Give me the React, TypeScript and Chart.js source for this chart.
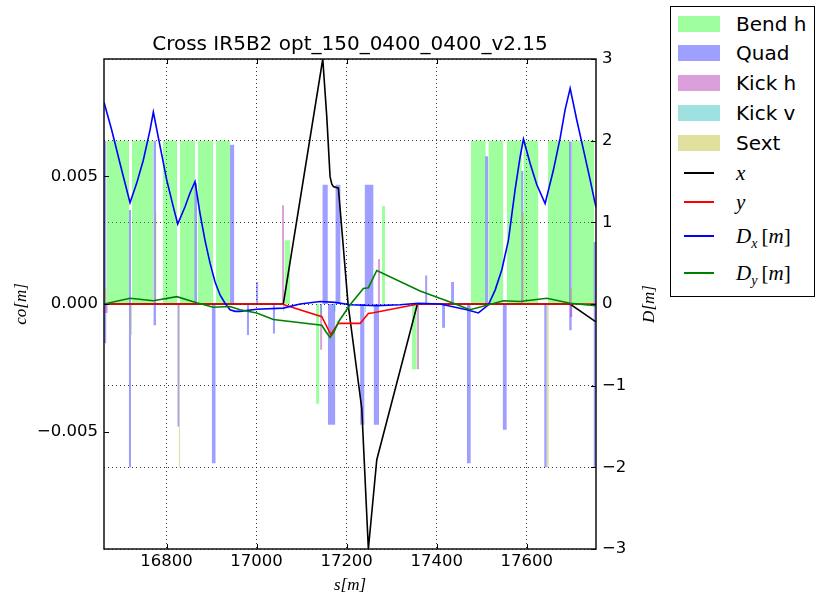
import React, { useEffect, useRef } from "react";
import { Chart, registerables } from "chart.js";

Chart.register(...registerables);

// ---- axis limits and tick values ----
const S_MIN = 16661;
const S_MAX = 17754;
const CO_LIMIT = 0.0096;
const D_LIMIT = 3;

const sTicks = [16800, 17000, 17200, 17400, 17600];
const coTicks = [-0.005, 0, 0.005];
const dTicks = [-3, -2, -1, 0, 1, 2, 3];

// ---- closed orbit (left axis, metres) ----
const orbitXS = [16661, 17059.4, 17147.0, 17155.9, 17163.2, 17167.0, 17170.6, 17181.7, 17203.2, 17233.7, 17248.3, 17267.0, 17357.2, 17696.5, 17754];
const orbitX = [0, 0, 0.0096, 0.00734, 0.00499, 0.0047, 0.0046, 0.00454, 0, -0.0041, -0.0096, -0.0061, 0, 0, -0.0007];

const orbitYS = [16661, 17055.9, 17144.8, 17164.8, 17181.7, 17229.9, 17248.3, 17259.4, 17359.4, 17754];
const orbitY = [0, 0, -0.0005, -0.00119, -0.00076, -0.00076, -0.00037, -0.00034, 0, 0];

// ---- dispersion (right axis, metres) ----
const dispXS = [
  16661, 16678.1, 16696.6, 16718.8, 16733.7, 16748.3, 16763.2, 16770.6, 16800.3, 16815.0,
  16824.8, 16841.0, 16852.1, 16863.2, 16874.3, 16885.4, 16896.6, 16907.7, 16918.8, 16929.9,
  16941.0, 16952.1, 16963.2, 17000.3, 17059.4, 17096.6, 17141.0, 17174.3, 17207.7, 17267.0,
  17318.8, 17359.5, 17407.7, 17466.9, 17492.7, 17515.0, 17529.9, 17544.8, 17559.4, 17574.3,
  17585.4, 17592.8, 17607.7, 17622.5, 17641.0, 17659.4, 17674.3, 17685.4, 17696.6, 17711.4,
  17726.1, 17741.0, 17754,
];
const dispX = [
  2.47, 2.13, 1.72, 1.24, 1.48, 1.76, 2.13, 2.35, 1.52, 1.19,
  0.98, 1.19, 1.36, 1.5, 1.11, 0.78, 0.5, 0.27, 0.11, 0.01,
  -0.07, -0.09, -0.09, -0.065, -0.05, 0.0, 0.03, 0.02, -0.01, -0.02,
  -0.01, 0.01, 0.0, -0.07, -0.11, -0.01, 0.17, 0.42, 0.78, 1.4,
  1.8, 2.02, 1.72, 1.46, 1.23, 1.64, 2.03, 2.38, 2.64, 2.25,
  1.89, 1.52, 1.18,
];

const dispYS = [
  16661, 16718.8, 16770.6, 16822.6, 16867.0, 16903.9, 16941.0, 16963.2, 17000.3, 17037.2,
  17144.8, 17154.0, 17163.2, 17172.0, 17181.7, 17207.7, 17237.2, 17248.4, 17267.0, 17363.2,
  17437.2, 17474.3, 17548.3, 17585.4, 17644.8, 17696.6, 17754,
];
const dispY = [
  0, 0.07, 0.04, 0.09, 0.016, -0.04, -0.03, -0.07, -0.11, -0.19,
  -0.26, -0.34, -0.41, -0.34, -0.22, -0.01, 0.19, 0.2, 0.41, 0.16,
  0.01, -0.07, 0.04, 0.03, 0.07, 0.01, -0.02,
];

// ---- lattice elements: start s, end s, strength (drawn on the right axis) ----
const bendStart = [16667.0, 16722.6, 16791.4, 16829.9, 16869.2, 16909.9, 17061.7, 17132.1, 17278.1, 17344.8, 17475.9, 17515.0, 17555.9, 17592.8, 17646.9, 17700.3];
const bendEnd = [16717.2, 16770.6, 16823.9, 16863.2, 16903.9, 16941.0, 17074.3, 17139.5, 17285.4, 17355.9, 17509.2, 17548.3, 17589.2, 17626.1, 17696.6, 17749.9];
const bendH = [2, 2, 2, 2, 2, 2, 0.78, -1.22, 1.2, -0.8, 2, 2, 2, 2, 2, 2];

const quadStart = [
  16661, 16661, 16716.1, 16716.1, 16770.6, 16770.6, 16823.9, 16861.7, 16900.3, 16941.0,
  16978.1, 16998.8, 17035.9, 17146.1, 17158.3, 17175.0, 17229.9, 17239.9, 17259.9, 17374.3,
  17412.1, 17432.1, 17466.9, 17507.7, 17546.6, 17587.7, 17638.8, 17694.3, 17694.3, 17748.4,
  17748.4,
];
const quadEnd = [
  16666.5, 16666.5, 16721.2, 16721.2, 16776.6, 16776.6, 16828.3, 16867.7, 16909.2, 16950.6,
  16983.2, 17003.9, 17041.0, 17158.3, 17175.0, 17186.6, 17239.9, 17259.9, 17272.1, 17379.5,
  17418.8, 17438.8, 17475.9, 17515.0, 17555.9, 17592.8, 17644.8, 17700.3, 17700.3, 17754.3,
  17754.3,
];
const quadK = [
  2.0, -0.48, 1.15, -2.0, 2.0, -0.26, -1.5, 1.48, -1.95, 1.95,
  -0.38, 0.27, -0.36, 1.46, -1.48, 1.46, -1.48, 1.46, -1.48, 0.35,
  -0.29, 0.27, -1.95, 1.81, -1.54, 1.63, -2.0, 1.99, -0.32, 0.76,
  -2.0,
];

const kickHStart = [16663.0, 17056.6, 17141.0, 17269.2, 17355.9, 17696.6];
const kickHEnd = [16669.5, 17061.0, 17146.1, 17274.3, 17361.0, 17701.7];
const kickHK = [-0.11, 1.21, -0.56, 0.55, -0.8, -0.16];

const kickVStart = [17058.1, 17141.0, 17171.0, 17239.9];
const kickVEnd = [17061.7, 17145.5, 17175.9, 17243.0];
const kickVK = [-0.09, -0.16, -0.09, -0.1];

const sextStart = [16663.2, 16720.3, 16774.3, 16827.0, 17589.2, 17644.8, 17696.6];
const sextEnd = [16667.0, 16723.2, 16777.6, 16830.0, 17594.3, 17649.2, 17701.0];
const sextK = [0.19, -0.38, 1.13, -2.0, 1.13, -2.0, 0.2];

// ---- styles ----
const BEND_FILL = "rgba(0, 255, 0, 0.375)";
const QUAD_FILL = "rgba(0, 0, 255, 0.375)";
const KICKH_FILL = "rgba(160, 0, 160, 0.375)";
const KICKV_FILL = "rgba(0, 172, 172, 0.375)";
const SEXT_FILL = "rgba(172, 172, 0, 0.375)";

const SANS = "'DejaVu Sans', sans-serif";
const MATH = "'Liberation Serif', 'DejaVu Serif', serif";

type Pt = { x: number; y: number };
const zip = (xs: number[], ys: number[]): Pt[] => xs.map((x, i) => ({ x, y: ys[i] }));

const minus = (s: string) => s.replace("-", "\u2212");

function elementBlocks(label: string, start: number[], end: number[], strength: number[], color: string, order: number) {
  return start.map((s0, i) => ({
    type: "line" as const,
    label,
    data: [
      { x: s0, y: 0 },
      { x: s0, y: strength[i] },
      { x: end[i], y: strength[i] },
      { x: end[i], y: 0 },
    ],
    xAxisID: "x",
    yAxisID: "y2",
    fill: "origin",
    backgroundColor: color,
    borderColor: "rgba(0,0,0,0)",
    borderWidth: 0,
    pointRadius: 0,
    pointHoverRadius: 0,
    tension: 0,
    order,
  }));
}

function curve(label: string, xs: number[], ys: number[], color: string, axis: string, order: number) {
  return {
    type: "line" as const,
    label,
    data: zip(xs, ys),
    xAxisID: "x",
    yAxisID: axis,
    borderColor: color,
    borderWidth: 1.6,
    pointRadius: 0,
    pointHoverRadius: 0,
    fill: false,
    tension: 0,
    order,
  };
}

// frame, inward tick marks and the right-hand axis title
const framePlugin = {
  id: "frame",
  afterDatasetsDraw(chart: any) {
    const { ctx, chartArea: a, scales } = chart;
    const len = 5;
    ctx.save();
    ctx.strokeStyle = "#000";
    ctx.lineWidth = 1;
    ctx.beginPath();
    for (const v of sTicks) {
      const px = Math.round(scales.x.getPixelForValue(v)) + 0.5;
      ctx.moveTo(px, a.bottom);
      ctx.lineTo(px, a.bottom - len);
      ctx.moveTo(px, a.top);
      ctx.lineTo(px, a.top + len);
    }
    for (const v of coTicks) {
      const py = Math.round(scales.y.getPixelForValue(v)) + 0.5;
      ctx.moveTo(a.left, py);
      ctx.lineTo(a.left + len, py);
    }
    for (const v of dTicks) {
      const py = Math.round(scales.y2.getPixelForValue(v)) + 0.5;
      ctx.moveTo(a.right, py);
      ctx.lineTo(a.right - len, py);
    }
    ctx.stroke();
    ctx.lineWidth = 1.5;
    ctx.strokeStyle = "#111";
    ctx.strokeRect(a.left, a.top, a.right - a.left, a.bottom - a.top);

    ctx.translate(scales.y2.right - 10, (a.top + a.bottom) / 2);
    ctx.rotate(-Math.PI / 2);
    ctx.fillStyle = "#000";
    ctx.font = `italic 17px ${MATH}`;
    ctx.textAlign = "center";
    ctx.textBaseline = "middle";
    ctx.fillText("D[m]", 0, 0);
    ctx.restore();
  },
};

const tickFont = { family: SANS, size: 16.5 };
const gridDash = [1, 3];

function buildConfig(): any {
  const datasets: any[] = [
    ...elementBlocks("Bend h", bendStart, bendEnd, bendH, BEND_FILL, 14),
    ...elementBlocks("Quad", quadStart, quadEnd, quadK, QUAD_FILL, 13),
    ...elementBlocks("Kick h", kickHStart, kickHEnd, kickHK, KICKH_FILL, 12),
    ...elementBlocks("Kick v", kickVStart, kickVEnd, kickVK, KICKV_FILL, 11),
    ...elementBlocks("Sext", sextStart, sextEnd, sextK, SEXT_FILL, 10),
    curve("x", orbitXS, orbitX, "#000000", "y", 3),
    curve("y", orbitYS, orbitY, "#ff0000", "y", 2),
    curve("Dx [m]", dispXS, dispX, "#0000ff", "y2", 1),
    curve("Dy [m]", dispYS, dispY, "#008000", "y2", 0),
  ];
  return {
    type: "line",
    data: { datasets },
    plugins: [framePlugin],
    options: {
      responsive: false,
      devicePixelRatio: 1,
      animation: false,
      events: [],
      layout: { padding: { left: 0, right: 156, top: 0, bottom: 0 } },
      plugins: {
        legend: { display: false },
        tooltip: { enabled: false },
        title: {
          display: true,
          text: "Cross IR5B2 opt_150_0400_0400_v2.15",
          color: "#000",
          fullSize: false,
          font: { family: SANS, size: 20, weight: "normal" },
          padding: { top: 33, bottom: 2 },
        },
      },
      scales: {
        x: {
          type: "linear",
          position: "bottom",
          min: S_MIN,
          max: S_MAX,
          afterBuildTicks: (s: any) => {
            s.ticks = sTicks.map((value) => ({ value }));
          },
          afterFit: (s: any) => {
            s.height = 47;
          },
          ticks: {
            autoSkip: false,
            maxRotation: 0,
            padding: 3,
            color: "#000",
            font: tickFont,
            callback: (v: number) => String(v),
          },
          grid: { display: true, drawTicks: false, color: "rgba(0,0,0,0.8)", lineWidth: 1 },
          border: { display: false, dash: gridDash },
          title: {
            display: true,
            text: "s[m]",
            color: "#000",
            font: { family: MATH, size: 17, style: "italic" },
            padding: { top: 0, bottom: 0 },
          },
        },
        y: {
          type: "linear",
          position: "left",
          min: -CO_LIMIT,
          max: CO_LIMIT,
          afterBuildTicks: (s: any) => {
            s.ticks = coTicks.map((value) => ({ value }));
          },
          afterFit: (s: any) => {
            s.width = 104;
          },
          ticks: {
            autoSkip: false,
            padding: 6,
            color: "#000",
            font: tickFont,
            callback: (v: number) => minus(v.toFixed(3)),
          },
          grid: { display: false, drawTicks: false },
          border: { display: false },
          title: {
            display: true,
            text: "co[m]",
            color: "#000",
            font: { family: MATH, size: 17, style: "italic" },
            padding: { top: 11, bottom: 0 },
          },
        },
        y2: {
          type: "linear",
          position: "right",
          min: -D_LIMIT,
          max: D_LIMIT,
          afterBuildTicks: (s: any) => {
            s.ticks = dTicks.map((value) => ({ value }));
          },
          afterFit: (s: any) => {
            s.width = 64;
          },
          ticks: {
            autoSkip: false,
            padding: 6,
            color: "#000",
            font: tickFont,
            callback: (v: number) => minus(String(v)),
          },
          grid: { display: true, drawTicks: false, color: "rgba(0,0,0,0.8)", lineWidth: 1 },
          border: { display: false, dash: gridDash },
        },
      },
    },
  };
}

const patchEntries = [
  { label: "Bend h", color: BEND_FILL },
  { label: "Quad", color: QUAD_FILL },
  { label: "Kick h", color: KICKH_FILL },
  { label: "Kick v", color: KICKV_FILL },
  { label: "Sext", color: SEXT_FILL },
];

const mathStyle: React.CSSProperties = { fontFamily: MATH, fontStyle: "italic", fontSize: 21 };
const upright: React.CSSProperties = { fontStyle: "normal" };
const subStyle: React.CSSProperties = { fontSize: 14, verticalAlign: "-0.35em", lineHeight: 0 };

const lineEntries = [
  { color: "#000000", text: <span style={mathStyle}>x</span> },
  { color: "#ff0000", text: <span style={mathStyle}>y</span> },
  {
    color: "#0000ff",
    text: (
      <span style={mathStyle}>
        D<span style={subStyle}>x</span>&thinsp;<span style={upright}>[</span>m<span style={upright}>]</span>
      </span>
    ),
  },
  {
    color: "#008000",
    text: (
      <span style={mathStyle}>
        D<span style={subStyle}>y</span>&thinsp;<span style={upright}>[</span>m<span style={upright}>]</span>
      </span>
    ),
  },
];

const patchRowCenters = [17, 46.3, 75.7, 105.7, 135.7];
const lineRowCenters = [165.7, 194.7, 229, 265.7];

function Legend() {
  return (
    <div
      style={{
        position: "absolute",
        left: 670,
        top: 6,
        width: 145,
        height: 291,
        boxSizing: "border-box",
        border: "1px solid #000",
        background: "#fff",
        fontFamily: SANS,
        fontSize: 20,
        color: "#000",
      }}
    >
      {patchEntries.map((e, i) => (
        <React.Fragment key={e.label}>
          <div
            style={{
              position: "absolute",
              left: 7,
              top: patchRowCenters[i] - 8,
              width: 42,
              height: 16,
              background: e.color,
            }}
          />
          <div
            style={{
              position: "absolute",
              left: 65,
              top: patchRowCenters[i] - 15,
              height: 30,
              lineHeight: "30px",
              whiteSpace: "nowrap",
            }}
          >
            {e.label}
          </div>
        </React.Fragment>
      ))}
      {lineEntries.map((e, i) => (
        <React.Fragment key={i}>
          <div
            style={{
              position: "absolute",
              left: 13,
              top: lineRowCenters[i] - 1,
              width: 30,
              height: 2,
              background: e.color,
            }}
          />
          <div
            style={{
              position: "absolute",
              left: 65,
              top: lineRowCenters[i] - 15,
              height: 30,
              lineHeight: "30px",
              whiteSpace: "nowrap",
            }}
          >
            {e.text}
          </div>
        </React.Fragment>
      ))}
    </div>
  );
}

export default function App() {
  const canvasRef = useRef<HTMLCanvasElement>(null);

  useEffect(() => {
    Chart.defaults.font.family = SANS;
    const chart = new Chart(canvasRef.current as HTMLCanvasElement, buildConfig());
    return () => chart.destroy();
  }, []);

  return (
    <div
      style={{
        position: "fixed",
        left: 0,
        top: 0,
        width: 816,
        height: 596,
        background: "#fff",
        overflow: "hidden",
      }}
    >
      <canvas
        ref={canvasRef}
        width={816}
        height={596}
        style={{ position: "absolute", left: 0, top: 0, width: 816, height: 596 }}
      />
      <Legend />
    </div>
  );
}
